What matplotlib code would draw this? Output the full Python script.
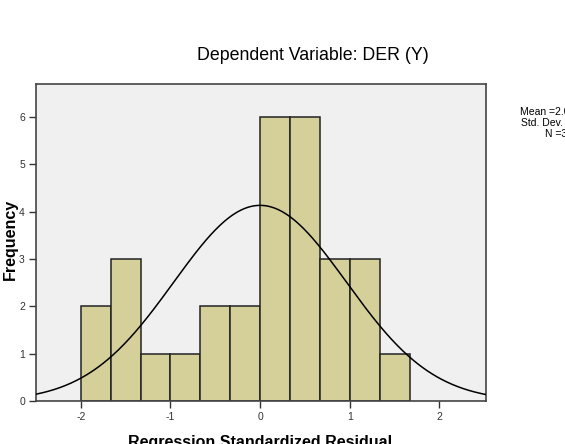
import numpy as np
import matplotlib
matplotlib.use("Agg")
import matplotlib.pyplot as plt

# Data
bin_edges = [-2.0, -5/3, -4/3, -1.0, -2/3, -1/3, 0.0, 1/3, 2/3, 1.0, 4/3, 5/3]
counts = [2, 3, 1, 1, 2, 2, 6, 6, 3, 3, 1]
mean_val = 0.0
std_val = 0.965
n_val = 30
x_ticks = [-2, -1, 0, 1, 2]
y_ticks = [0, 1, 2, 3, 4, 5, 6]
title = "Dependent Variable: DER (Y)"
stats_text = "Mean =2.01E-16\nStd. Dev. =0.965\nN =30"

plt.rcParams['font.family'] = ['Liberation Sans', 'DejaVu Sans']
plt.rcParams['axes.unicode_minus'] = False

fig = plt.figure(figsize=(5.65, 4.44), dpi=100)
fig.patch.set_facecolor('white')
ax = fig.add_axes([0.0637, 0.0968, 0.7965, 0.7142])
ax.set_facecolor('#F0F0F0')

edges = np.array(bin_edges)
widths = np.diff(edges)
ax.bar(edges[:-1], counts, width=widths, align='edge',
       color='#D5D09A', edgecolor='#222222', linewidth=1.1, zorder=2)

bw = widths.mean()
xs = np.linspace(-2.5, 2.52, 400)
ys = n_val * bw * np.exp(-0.5 * ((xs - mean_val) / std_val) ** 2) / (std_val * np.sqrt(2 * np.pi))
ax.plot(xs, ys, color='black', linewidth=1.1, zorder=3)

ax.set_xlim(-2.5, 2.52)
ax.set_ylim(0, 6.7)
ax.set_xticks(x_ticks)
ax.set_yticks(y_ticks)
ax.tick_params(axis='both', direction='out', length=5, width=1, color='#333333',
               labelsize=7.5, labelcolor='#333333', pad=3)
for s in ax.spines.values():
    s.set_color('#444444')
    s.set_linewidth(1.2)

fig.text(10 / 565, 1 - 239 / 444, "Frequency", fontsize=11.5, fontweight='bold',
         rotation=90, ha='center', va='center')
fig.text(260 / 565, 1 - 442 / 444, "Regression Standardized Residual", fontsize=11.5,
         fontweight='bold', ha='center', va='center')
fig.text(313 / 565, 1 - 56 / 444, title, fontsize=12.8, ha='center', va='center')
fig.text(559 / 565, 1 - 123 / 444, stats_text, fontsize=7.5, ha='center', va='center',
         multialignment='center', linespacing=1.15)

fig.savefig("out.png", dpi=100)
